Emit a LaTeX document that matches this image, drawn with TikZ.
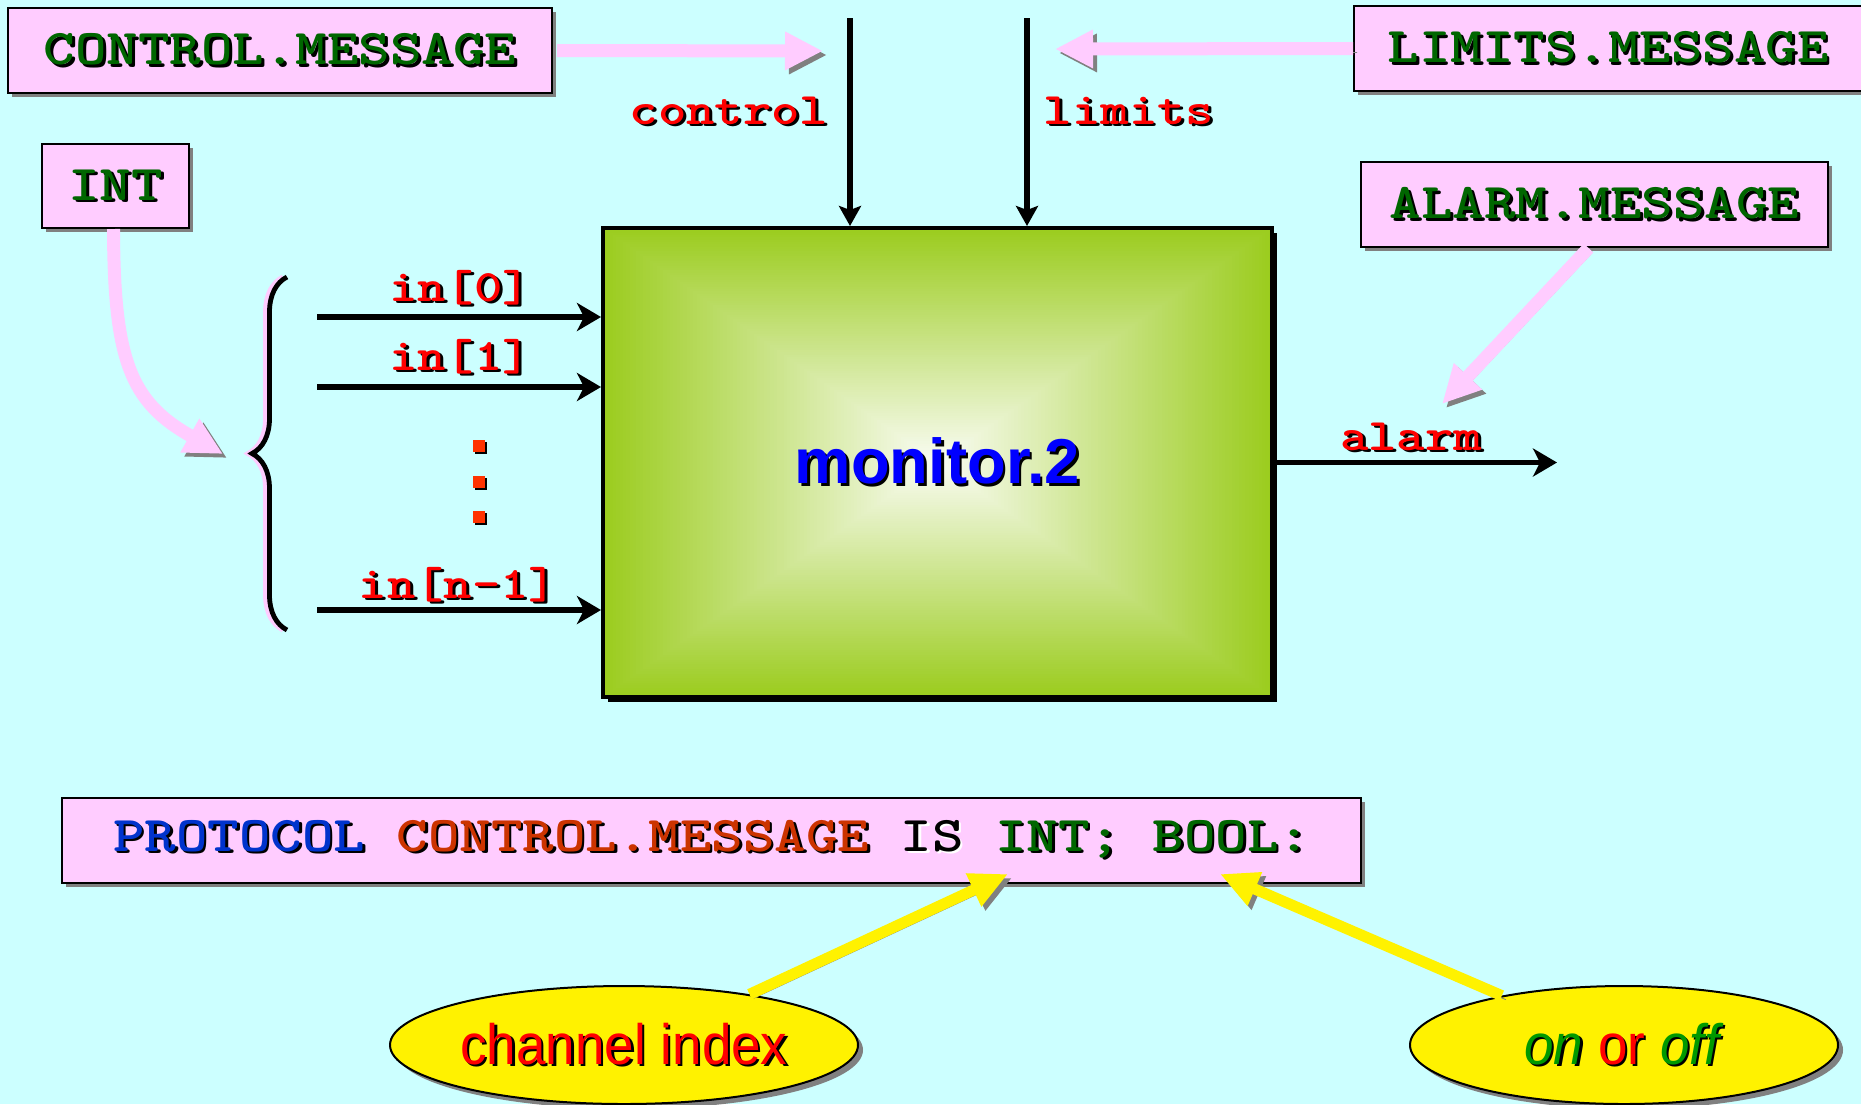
\documentclass[tikz,border=0pt]{standalone}
\usepackage{fontspec}
\usepackage{graphicx}
\usetikzlibrary{arrows.meta,shapes.geometric,shadows,decorations.pathreplacing,calc}

\newfontfamily\arialfont{Liberation Sans}

\definecolor{bgcyan}{RGB}{204,255,255}
\definecolor{boxpink}{RGB}{255,204,255}
\definecolor{shadowgray}{RGB}{128,128,128}
\definecolor{typegreen}{RGB}{0,102,0}
\definecolor{sigred}{RGB}{255,0,0}
\definecolor{kwblue}{RGB}{0,51,204}
\definecolor{msgorange}{RGB}{204,51,0}
\definecolor{dotred}{RGB}{255,51,0}
\definecolor{notegreen}{RGB}{0,153,0}
\definecolor{procgreen}{RGB}{155,204,30}
\definecolor{proccentre}{RGB}{250,252,244}

% 带投影的文字：#1 投影色，#2 文字色，#3 文字
\newcommand\shtxt[3][black]{\leavevmode\rlap{\kern1.2pt\raisebox{-1.2pt}{\textcolor{#1}{#3}}}\textcolor{#2}{#3}}
% 等宽字横向拉宽
\newcommand\wide[1]{\scalebox{1.2}[1]{#1}}

\begin{document}
\begin{tikzpicture}[x=0.5pt, y=-0.5pt,
  typebox/.style={draw=black, line width=1pt, fill=boxpink, inner sep=0pt,
    minimum height=42.5pt, font=\ttfamily\bfseries\fontsize{25}{30}\selectfont,
    drop shadow={shadow xshift=2pt, shadow yshift=-2pt, fill=shadowgray, opacity=1}},
  siglbl/.style={inner sep=0pt, font=\ttfamily\bfseries\fontsize{22.5}{27}\selectfont},
  sig/.style={line width=2.6pt, -{Stealth[length=12pt, width=14pt, inset=3.5pt]}},
  sigdown/.style={line width=2.8pt, -{Stealth[length=10pt, width=11pt, inset=2pt]}},
  fatpink/.style={line width=6.5pt, draw=boxpink, -{Triangle[length=19pt, width=18pt]},
    preaction={draw=shadowgray, transform canvas={shift={(2pt,-2pt)}}}},
  fatyellow/.style={line width=5.5pt, draw=yellow, -{Triangle[length=19pt, width=17pt]},
    preaction={draw=shadowgray, transform canvas={shift={(2pt,-2pt)}}}},
  note/.style={ellipse, draw=black, line width=1pt, fill=yellow, inner sep=0pt,
    minimum height=59pt, font=\arialfont\fontsize{28.5}{34}\selectfont,
    drop shadow={shadow xshift=2.5pt, shadow yshift=-2.5pt, fill=shadowgray, opacity=1}},
  dotsq/.style={fill=dotred, minimum size=6pt, inner sep=0pt,
    drop shadow={shadow xshift=1pt, shadow yshift=-1pt, fill=black, opacity=1}}]

  %% ════ 背景 ════
  \fill[bgcyan] (0,0) rectangle (1861,1104);

  %% ════ 进程框 monitor.2（由外向内一圈圈叠矩形，做出矩形渐变）════
  \node[draw=black, line width=2pt, inner sep=0pt,
    minimum width=334.5pt, minimum height=234.5pt,
    drop shadow={shadow xshift=2.5pt, shadow yshift=-2.5pt, fill=black, opacity=1},
    path picture={
      \foreach \k in {0,...,99} {
        \pgfmathtruncatemacro\pct{\k*100/99}
        \fill[proccentre!\pct!procgreen]
          ($(path picture bounding box.south west)!\k/200!(path picture bounding box.north east)$) rectangle
          ($(path picture bounding box.north east)!\k/200!(path picture bounding box.south west)$);
      }
    },
    font=\arialfont\bfseries\fontsize{31.7}{38}\selectfont]
    (monitor) at (937.5,462.5) {\shtxt{blue}{monitor.2}};

  %% ════ 类型框 ════
  \node[typebox, minimum width=272pt]   (ctrlmsg)   at (280,50.5)    {\wide{\shtxt{typegreen}{CONTROL.MESSAGE}}};
  \node[typebox, minimum width=254pt]   (limitsmsg) at (1608,48.5)   {\wide{\shtxt{typegreen}{LIMITS.MESSAGE}}};
  \node[typebox, minimum width=73.5pt, minimum height=42pt] (intbox) at (115.5,186) {\wide{\shtxt{typegreen}{INT}}};
  \node[typebox, minimum width=233.5pt] (alarmmsg)  at (1594.5,204.5) {\wide{\shtxt{typegreen}{ALARM.MESSAGE}}};
  \node[typebox, minimum width=649.5pt] (protocol)  at (711.5,840.5)
    {\wide{\shtxt{kwblue}{PROTOCOL} \shtxt{msgorange}{CONTROL.MESSAGE} \shtxt[white]{black}{IS} \shtxt{typegreen}{INT; BOOL:}}};

  %% ════ 通道 ════
  \coordinate (ctrlsrc) at (850,18);
  \coordinate (limsrc)  at (1027,18);
  \draw[sigdown] (ctrlsrc) -- (ctrlsrc |- monitor.north);
  \draw[sigdown] (limsrc) -- (limsrc |- monitor.north);
  \foreach \nm/\y in {in0/317, in1/387, inn/610} {
    \coordinate (\nm) at (317,\y);
    \draw[sig] (\nm) -- (\nm -| monitor.west);
  }
  \coordinate (alarmend) at (1557,462.5);
  \draw[sig] (monitor.east) -- (alarmend);

  %% ════ 通道名 ════
  \node[siglbl] (lblctrl)  at (729,112)  {\wide{\shtxt{sigred}{control}}};
  \node[siglbl] (lbllim)   at (1129,112) {\wide{\shtxt{sigred}{limits}}};
  \node[siglbl] (lblin0)   at (460,289)  {\wide{\shtxt{sigred}{in[0]}}};
  \node[siglbl] (lblin1)   at (460,358)  {\wide{\shtxt{sigred}{in[1]}}};
  \node[siglbl] (lblinn)   at (458,586)  {\wide{\shtxt{sigred}{in[n-1]}}};
  \node[siglbl] (lblalarm) at (1411,438) {\wide{\shtxt{sigred}{alarm}}};

  % 省略号
  \foreach \y [count=\i] in {446,482,517}
    \node[dotsq] (dot\i) at (479,\y) {};

  %% ════ 大括号（粉色衬底 + 黑线）════
  \draw[boxpink, line width=2.4pt, decorate, decoration={brace, amplitude=17.5pt}] (283,630) -- (283,277);
  \draw[black, line width=2.4pt, decorate, decoration={brace, amplitude=17.5pt}] (287,630) -- (287,277);

  %% ════ 粉色粗箭头 ════
  \coordinate (ctrltip)  at (823,51);
  \coordinate (limtip)   at (1055,49);
  \coordinate (alarmtip) at (1442,404);
  \coordinate (inttip)   at (223,454);
  \draw[fatpink] ([xshift=2pt]ctrlmsg.east) -- (ctrltip);
  \draw[fatpink] (limitsmsg.west) -- (limtip);
  \draw[fatpink] ([xshift=-3pt]alarmmsg.south) -- (alarmtip);
  \draw[fatpink] ([xshift=-1pt]intbox.south) .. controls (114,360) and (130,402) .. (inttip);

  %% ════ 注释椭圆 + 黄色箭头 ════
  \node[note, minimum width=234pt] (chan)  at (624,1045) {\scalebox{0.93}[1]{\shtxt{sigred}{channel index}}};
  \node[note, minimum width=214pt] (onoff) at (1624,1045)
    {\scalebox{0.93}[1]{\leavevmode\rlap{\kern1.2pt\raisebox{-1.2pt}{\textit{on} or \textit{off}}}%
      \textcolor{notegreen}{\textit{on}} \textcolor{sigred}{or} \textcolor{notegreen}{\textit{off}}}};
  \coordinate (intpt)  at (1008,874);
  \coordinate (boolpt) at (1220,874);
  \draw[fatyellow] (chan.22) -- (intpt);
  \draw[fatyellow] (onoff.158) -- (boolpt);

  % 钉死画布
  \pgfresetboundingbox
  \path[use as bounding box] (0,0) rectangle (1861,1104);
\end{tikzpicture}
\end{document}
